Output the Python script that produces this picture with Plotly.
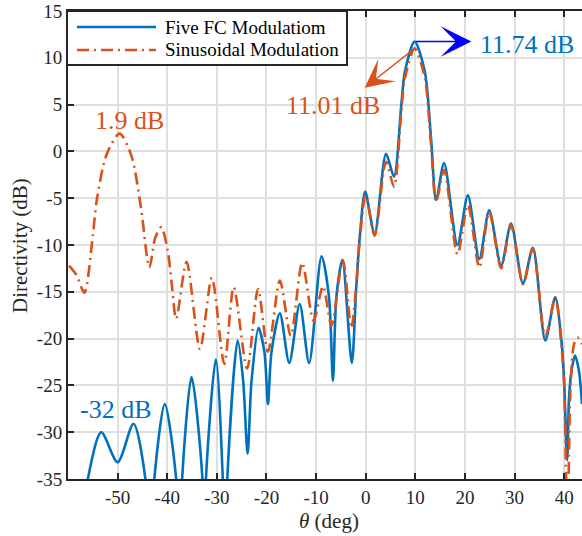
import plotly.graph_objects as go

# ---------------- data ----------------
theta_five = [-60.0, -58.2, -56.0, -53.3, -50.0, -46.8, -44.4, -43.5, -42.6, -40.5,
              -38.2, -37.6, -37.0, -35.1, -32.9, -32.55, -32.2, -30.2, -28.8, -28.35,
              -27.9, -25.8, -24.7, -23.8, -23.0, -21.6, -20.4, -19.7, -19.0, -17.3,
              -15.4, -13.3, -11.4, -8.9, -7.4, -6.6, -5.9, -4.7, -2.8, -1.9,
              -1.2, -0.1, 1.8, 4.1, 5.7, 7.2, 7.9, 9.86, 11.9, 13.2,
              14.2, 15.8, 18.5, 20.6, 22.9, 24.9, 27.3, 29.3, 31.7, 33.7,
              36.2, 38.2, 39.5, 40.0, 40.6, 41.0, 41.5, 42.2, 43.0, 43.6]
dir_five = [-35.5, -45.0, -35.0, -30.0, -33.2, -29.1, -35.0, -45.0, -35.0, -27.0,
            -35.0, -45.0, -35.0, -24.1, -35.0, -45.0, -35.0, -22.2, -35.0, -45.0,
            -35.0, -20.2, -24.5, -32.3, -24.5, -18.85, -21.5, -27.0, -21.5, -17.3,
            -22.6, -16.3, -22.6, -11.2, -15.5, -24.5, -15.5, -11.6, -22.6, -14.5,
            -9.2, -4.3, -8.8, -0.25, -2.7, 5.1, 8.5, 11.74, 8.6, 1.2,
            -5.2, -1.25, -10.0, -4.7, -11.5, -6.3, -12.2, -7.7, -14.1, -10.3,
            -20.2, -15.6, -20.5, -24.5, -33.0, -26.2, -23.4, -21.8, -23.5, -27.0]

theta_sin = [-59.8, -58.3, -56.7, -55.0, -54.2, -52.2, -49.6, -47.2, -45.3, -43.6,
             -42.4, -41.2, -39.9, -39.1, -38.2, -36.1, -33.4, -31.0, -28.5, -26.6,
             -23.9, -21.7, -19.7, -17.3, -15.1, -12.8, -10.5, -8.6, -6.9, -4.6,
             -2.9, -1.9, -1.2, 0.0, 1.8, 4.1, 5.7, 7.2, 7.9, 9.86,
             11.9, 13.2, 14.2, 15.8, 18.5, 20.6, 22.9, 24.9, 27.3, 29.3,
             31.7, 33.7, 36.2, 38.2, 39.5, 40.0, 40.4, 40.65, 40.9, 41.3,
             42.0, 42.7, 43.6]
dir_sin = [-12.2, -13.2, -15.1, -9.0, -5.2, -0.3, 1.9, -0.5, -6.0, -12.4,
           -9.2, -8.1, -10.6, -14.1, -17.9, -11.8, -21.1, -13.5, -22.7, -14.5,
           -23.2, -14.7, -21.4, -13.8, -19.7, -11.9, -18.1, -14.4, -18.6, -11.6,
           -18.9, -14.3, -9.5, -4.7, -9.0, -1.1, -3.8, 4.4, 7.8, 11.01,
           7.9, 0.5, -5.4, -2.0, -11.0, -5.7, -12.4, -6.5, -12.5, -7.9,
           -14.2, -10.4, -19.8, -15.6, -21.0, -25.0, -35.0, -42.0, -35.0, -25.0,
           -20.6, -19.9, -20.6]

x_ticks = [-50, -40, -30, -20, -10, 0, 10, 20, 30, 40]
x_tick_labels = ["-50", "-40", "-30", "-20", "-10", "0", "10", "20", "30", "40"]
y_ticks = [-35, -30, -25, -20, -15, -10, -5, 0, 5, 10, 15]
y_tick_labels = ["-35", "-30", "-25", "-20", "-15", "-10", "-5", "0", "5", "10", "15"]

series_names = ["Five FC Modulatiom", "Sinusoidal Modulation"]

BLUE = "#0072BD"
ORANGE = "#D95319"
AX = "#262626"
FONT = "Liberation Serif"
DASHDOT = "12px,5px,2px,5px"

fig = go.Figure()
fig.add_trace(go.Scatter(x=theta_five, y=dir_five, mode="lines", name=series_names[0],
                         showlegend=False,
                         line=dict(color=BLUE, width=2.6, shape="spline", smoothing=0.8)))
fig.add_trace(go.Scatter(x=theta_sin, y=dir_sin, mode="lines", name=series_names[1],
                         showlegend=False,
                         line=dict(color=ORANGE, width=2.6, shape="spline", smoothing=0.8,
                                   dash=DASHDOT)))

# arrows (tip at x,y ; tail at ax,ay)
fig.add_annotation(x=21.3, y=11.74, ax=9.86, ay=11.74, xref="x", yref="y", axref="x", ayref="y",
                   text="", showarrow=True, arrowhead=3, arrowsize=3.2, arrowwidth=1.6,
                   arrowcolor="#0000FF")
fig.add_annotation(x=-0.2, y=6.8, ax=9.86, ay=11.0, xref="x", yref="y", axref="x", ayref="y",
                   text="", showarrow=True, arrowhead=3, arrowsize=3.4, arrowwidth=1.4,
                   arrowcolor=ORANGE)

labels = [
    dict(x=32.6, y=11.45, text="11.74 dB", color=BLUE),
    dict(x=-6.6, y=4.9, text="11.01 dB", color=ORANGE),
    dict(x=-47.7, y=3.3, text="1.9 dB", color=ORANGE),
    dict(x=-50.3, y=-27.6, text="-32 dB", color=BLUE),
]
for l in labels:
    fig.add_annotation(x=l["x"], y=l["y"], xref="x", yref="y", text=l["text"], showarrow=False,
                       font=dict(family=FONT, size=26, color=l["color"]))

# axis titles (placed in the margins)
fig.add_annotation(x=0.508, y=-0.0897, xref="paper", yref="paper", text="<i>θ</i> (deg)",
                   xanchor="center", yanchor="middle",
                   showarrow=False, font=dict(family=FONT, size=21, color=AX))
fig.add_annotation(x=-0.0934, y=0.5, xref="paper", yref="paper", text="Directivity (dB)",
                   xanchor="center", yanchor="middle",
                   textangle=-90, showarrow=False, font=dict(family=FONT, size=21, color=AX))

# legend box (drawn in the top-left corner of the axes, as in the reference)
fig.add_shape(type="rect", xref="paper", yref="paper", x0=-0.002, x1=0.5428, y0=0.8846, y1=1.0,
              fillcolor="white", line=dict(color=AX, width=2), layer="above")
legend_rows = [0.9658, 0.9167]
legend_styles = [dict(color=BLUE, width=2.6), dict(color=ORANGE, width=2.6, dash=DASHDOT)]
for name, yy, st in zip(series_names, legend_rows, legend_styles):
    fig.add_shape(type="line", xref="paper", yref="paper", x0=0.0175, x1=0.1712, y0=yy, y1=yy,
                  line=st, layer="above")
    fig.add_annotation(x=0.1842, y=yy, xref="paper", yref="paper", text=name, showarrow=False,
                       xanchor="left", yanchor="middle",
                       font=dict(family=FONT, size=19, color="black"))

axis_common = dict(
    ticks="inside", ticklen=6, tickwidth=1.5, tickcolor=AX,
    showline=True, linecolor=AX, linewidth=2, automargin=False,
    showgrid=True, gridcolor="#dfdfdf", gridwidth=2, zeroline=False,
    tickfont=dict(family=FONT, size=19, color=AX),
)

fig.update_layout(
    width=582, height=536,
    margin=dict(l=68, r=0, t=11, b=57),
    paper_bgcolor="white", plot_bgcolor="white",
    showlegend=False,
    xaxis=dict(range=[-60, 43.6], tickvals=x_ticks, ticktext=x_tick_labels, mirror="ticks",
               **axis_common),
    yaxis=dict(range=[-35, 15], tickvals=y_ticks, ticktext=y_tick_labels,
               **axis_common),
)

fig.write_html("out.html")
